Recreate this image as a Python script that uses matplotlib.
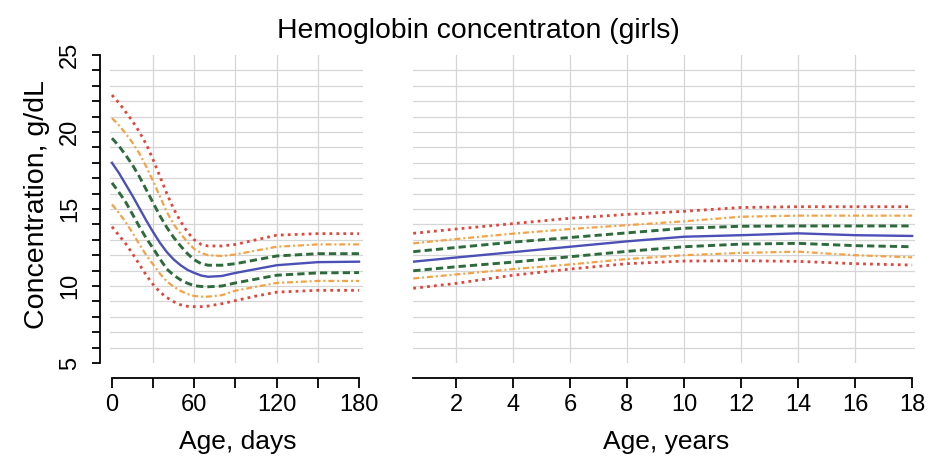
import numpy as np
import matplotlib
matplotlib.use("Agg")
import matplotlib.pyplot as plt
from matplotlib.ticker import MultipleLocator, FixedLocator

plt.rcParams['font.family'] = ['Liberation Sans', 'DejaVu Sans']

# infants, age in days
days = [0, 5, 10, 15, 20, 25, 30, 35, 40, 45, 50, 55, 60, 65, 70, 80, 90, 105, 120, 150, 180]
d_red_hi = [22.4, 21.9, 21.3, 20.7, 20.0, 19.2, 18.2, 17.1, 16.0, 15.0, 14.2, 13.5, 13.0, 12.7, 12.6,
            12.6, 12.7, 13.0, 13.3, 13.4, 13.4]
d_org_hi = [20.9, 20.45, 19.9, 19.3, 18.6, 17.75, 16.8, 15.8, 14.8, 14.0, 13.4, 12.85, 12.4, 12.15, 12.0,
            11.95, 12.05, 12.3, 12.55, 12.7, 12.7]
d_grn_hi = [19.6, 19.1, 18.5, 17.85, 17.1, 16.25, 15.4, 14.55, 13.8, 13.15, 12.6, 12.1, 11.7, 11.45, 11.35,
            11.35, 11.45, 11.7, 11.95, 12.1, 12.1]
d_median = [18.0, 17.35, 16.6, 15.85, 15.05, 14.25, 13.5, 12.8, 12.2, 11.72, 11.35, 11.05, 10.85, 10.68, 10.6,
            10.65, 10.85, 11.1, 11.35, 11.55, 11.58]
d_grn_lo = [16.7, 16.1, 15.45, 14.65, 13.85, 13.1, 12.45, 11.75, 11.1, 10.7, 10.4, 10.18, 10.02, 9.97, 9.95,
            10.0, 10.2, 10.45, 10.7, 10.85, 10.87]
d_org_lo = [15.3, 14.75, 14.15, 13.45, 12.7, 12.0, 11.4, 10.8, 10.3, 9.95, 9.68, 9.48, 9.35, 9.31, 9.31,
            9.4, 9.7, 9.95, 10.2, 10.33, 10.33]
d_red_lo = [13.85, 13.3, 12.75, 12.1, 11.4, 10.7, 10.1, 9.6, 9.25, 8.98, 8.78, 8.68, 8.66, 8.66, 8.7,
            8.85, 9.05, 9.35, 9.6, 9.72, 9.72]

# children, age in years
years = [0.5, 2, 4, 6, 8, 10, 12, 14, 16, 18]
y_red_hi = [13.42, 13.7, 14.05, 14.4, 14.65, 14.85, 15.1, 15.15, 15.15, 15.15]
y_org_hi = [12.77, 13.05, 13.4, 13.7, 13.95, 14.2, 14.5, 14.57, 14.57, 14.57]
y_grn_hi = [12.23, 12.5, 12.85, 13.15, 13.45, 13.75, 13.88, 13.9, 13.9, 13.9]
y_median = [11.58, 11.85, 12.2, 12.55, 12.9, 13.2, 13.3, 13.42, 13.3, 13.25]
y_grn_lo = [10.99, 11.25, 11.55, 11.9, 12.25, 12.55, 12.72, 12.77, 12.62, 12.55]
y_org_lo = [10.49, 10.75, 11.1, 11.4, 11.75, 12.0, 12.15, 12.23, 12.0, 11.86]
y_red_lo = [9.85, 10.17, 10.7, 11.1, 11.45, 11.62, 11.64, 11.6, 11.45, 11.36]

red = "#e2453b"
orange = "#f4a245"
green = "#2d6b3c"
blue = "#4b50b6"
grid_col = "#d6d6d6"

styles = {
    "red": dict(color=red, lw=2.0, dashes=(1.0, 1.5)),
    "org": dict(color=orange, lw=1.6, dashes=(2.7, 1.3, 0.9, 1.3)),
    "grn": dict(color=green, lw=2.1, dashes=(2.5, 1.4)),
    "med": dict(color=blue, lw=1.7),
}


def draw_curves(ax, x, curves):
    for key, vals in curves:
        ax.plot(x, vals, **styles[key])


def grid_lines(ax, xs):
    for yv in np.arange(6, 25):
        ax.axhline(yv, color=grid_col, lw=0.9, zorder=0)
    for xv in xs:
        ax.axvline(xv, color=grid_col, lw=0.9, zorder=0)


fig = plt.figure(figsize=(9.52, 4.58), dpi=100)
ax_d = fig.add_axes([0.1155, 0.2074, 0.2658, 0.6725])
ax_y = fig.add_axes([0.4338, 0.2074, 0.5273, 0.6725])

for ax in (ax_d, ax_y):
    ax.set_ylim(5, 25)
    for s in ("top", "right"):
        ax.spines[s].set_visible(False)
    ax.spines["bottom"].set_position(("outward", 11))
    ax.spines["bottom"].set_linewidth(1.3)
    ax.tick_params(axis="x", which="both", length=7, width=1.3, pad=4, labelsize=17)

# days panel
ax_d.set_xlim(-1.46, 182.9)
grid_lines(ax_d, [30, 60, 90, 120, 150])
draw_curves(ax_d, days, [("red", d_red_hi), ("org", d_org_hi), ("grn", d_grn_hi), ("med", d_median),
                         ("grn", d_grn_lo), ("org", d_org_lo), ("red", d_red_lo)])
ax_d.spines["bottom"].set_bounds(0, 180)
ax_d.xaxis.set_major_locator(FixedLocator([0, 60, 120, 180]))
ax_d.xaxis.set_minor_locator(FixedLocator([30, 90, 150]))
ax_d.spines["left"].set_position(("outward", 7))
ax_d.spines["left"].set_linewidth(1.3)
ax_d.spines["left"].set_bounds(5, 25)
ax_d.yaxis.set_major_locator(MultipleLocator(5))
ax_d.yaxis.set_minor_locator(MultipleLocator(1))
ax_d.tick_params(axis="y", which="both", length=6, width=1.3, pad=8, labelsize=17)
for lab in ax_d.get_yticklabels():
    lab.set_rotation(90)
    lab.set_verticalalignment("center")
ax_d.set_ylabel("Concentration, g/dL", fontsize=20.5)
ax_d.yaxis.set_label_coords(-0.29, 0.515)
ax_d.yaxis.label.set_verticalalignment("center")
ax_d.set_xlabel("Age, days", fontsize=19)
ax_d.xaxis.set_label_coords(0.506, -0.255)
ax_d.xaxis.label.set_verticalalignment("center")

# years panel
ax_y.set_xlim(0.49, 18.1)
grid_lines(ax_y, np.arange(2, 17, 2))
draw_curves(ax_y, years, [("red", y_red_hi), ("org", y_org_hi), ("grn", y_grn_hi), ("med", y_median),
                          ("grn", y_grn_lo), ("org", y_org_lo), ("red", y_red_lo)])
ax_y.spines["left"].set_visible(False)
ax_y.spines["bottom"].set_bounds(0.5, 18)
ax_y.xaxis.set_major_locator(FixedLocator(np.arange(2, 19, 2)))
ax_y.set_yticks([])
ax_y.set_xlabel("Age, years", fontsize=19)
ax_y.xaxis.set_label_coords(0.504, -0.255)
ax_y.xaxis.label.set_verticalalignment("center")

fig.text(0.502, 0.933, "Hemoglobin concentraton (girls)", fontsize=20.4, ha="center", va="center")

fig.savefig("out.png", dpi=100)
